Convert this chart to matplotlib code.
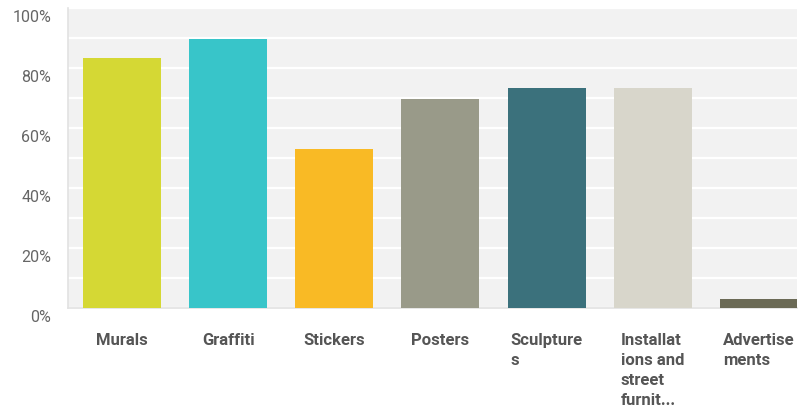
import matplotlib.pyplot as plt
from matplotlib.transforms import ScaledTranslation

categories = ["Murals", "Graffiti", "Stickers", "Posters", "Sculptures",
              "Installations and street furniture", "Advertisements"]
tick_labels = ["Murals", "Graffiti", "Stickers", "Posters", "Sculpture\ns",
               "Installat\nions and\nstreet\nfurnit...", "Advertise\nments"]
values = [83.3, 89.7, 53.0, 69.7, 73.2, 73.2, 3.0]
colors = ["#D5D834", "#38C5C9", "#F9BA25", "#999A89", "#3B717C", "#D8D6CB", "#6B6A56"]

plt.rcParams["font.family"] = ["Roboto", "DejaVu Sans"]

fig = plt.figure(figsize=(8.09, 4.10), dpi=100)
ax = fig.add_axes([68 / 809, 1 - 309 / 410, (797 - 68) / 809, 300 / 410])
ax.set_facecolor("#F2F2F2")

x = range(len(categories))
ax.bar(x, values, width=0.735, color=colors, zorder=3)

ax.set_xlim(-0.51, 6.36)
ax.set_ylim(0, 100)
ax.set_yticks(range(0, 101, 20))
ax.set_yticks(range(10, 100, 20), minor=True)
ax.set_yticklabels([f"{v}%" for v in range(0, 101, 20)])
ax.grid(axis="y", which="both", color="white", linewidth=1.6, zorder=1)

ax.set_xticks(list(x))
ax.set_xticklabels(tick_labels, fontweight="bold", color="#555555", fontsize=12,
                   linespacing=1.42, va="top", multialignment="left")

ax.tick_params(axis="x", length=0, pad=17)
ax.tick_params(axis="y", which="both", length=0, pad=12, labelsize=11.5, labelcolor="#666666")

# y labels sit a little below their gridlines
shift = ScaledTranslation(0, -7 / 100, fig.dpi_scale_trans)
for lab in ax.get_yticklabels():
    lab.set_transform(lab.get_transform() + shift)

for side in ["top", "right"]:
    ax.spines[side].set_visible(False)
for side in ["left", "bottom"]:
    ax.spines[side].set_color("#E2E2E2")
    ax.spines[side].set_linewidth(1.2)

fig.savefig("out.png", dpi=100, facecolor="white")
